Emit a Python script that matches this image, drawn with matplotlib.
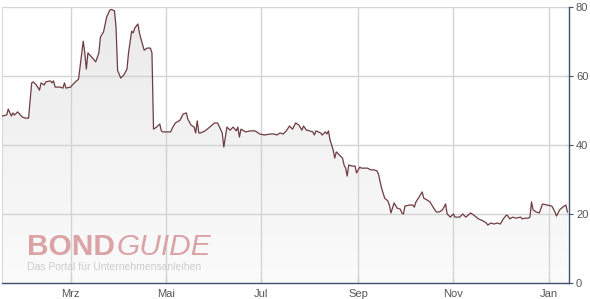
import numpy as np
import pandas as pd
import matplotlib
matplotlib.use('Agg')
import matplotlib.pyplot as plt
import matplotlib.dates as mdates
from matplotlib.colors import LinearSegmentedColormap
from matplotlib.patches import Polygon

# ── data ─────────────────────────────────────────────────────────────────────
START = pd.Timestamp('2013-01-16')
day = [0, 3, 4, 6, 7, 8, 10, 13, 15, 17, 19, 20, 22, 24, 25, 27, 28, 31, 32, 33,
       34, 37, 39, 40, 41, 44, 45, 47, 49, 52, 53, 54, 55, 58, 60, 62, 63, 65, 67, 69,
       70, 72, 73, 74, 76, 78, 80, 81, 83, 84, 85, 87, 88, 89, 91, 93, 95, 96, 97, 99,
       101, 102, 103, 105, 108, 109, 111, 114, 116, 118, 119, 121, 123, 124, 125, 126, 127, 130, 133, 136,
       138, 141, 142, 144, 146, 148, 150, 151, 152, 153, 156, 159, 162, 165, 168, 172, 174, 176, 178, 180,
       182, 184, 186, 188, 190, 192, 193, 195, 197, 199, 200, 201, 204, 205, 207, 208, 209, 210, 212, 213,
       214, 216, 218, 219, 220, 221, 222, 224, 226, 227, 229, 230, 232, 234, 236, 238, 240, 241, 243, 245,
       247, 248, 249, 251, 253, 255, 256, 257, 258, 261, 263, 264, 265, 267, 269, 270, 272, 274, 276, 278,
       280, 282, 284, 285, 287, 289, 290, 293, 295, 297, 300, 302, 305, 308, 310, 311, 313, 315, 317, 319,
       321, 323, 324, 325, 327, 329, 332, 333, 335, 337, 338, 339, 340, 342, 344, 346, 349, 352, 354, 355,
       357, 359, 361, 362]
price = [48.4, 48.7, 50.4, 48.4, 49.3, 48.7, 49.6, 48.1, 47.8, 47.8, 58.0, 58.3, 57.4, 55.9, 58.0, 57.4, 58.3, 58.6, 58.0, 58.6,
         56.8, 56.8, 56.5, 58.0, 56.5, 56.8, 57.4, 58.3, 59.1, 70.1, 66.7, 62.0, 66.7, 65.2, 64.1, 66.7, 71.3, 72.8, 77.1, 79.1,
         79.3, 78.9, 74.2, 61.7, 59.4, 60.3, 62.0, 66.7, 73.0, 72.5, 73.9, 75.1, 72.5, 70.7, 67.5, 68.1, 68.1, 66.7, 44.6, 45.2,
         46.1, 44.1, 43.8, 43.8, 43.8, 44.9, 46.4, 47.2, 49.0, 49.3, 47.5, 45.8, 45.2, 43.5, 47.0, 43.5, 43.5, 44.1, 45.2, 46.4,
         46.4, 43.5, 39.4, 45.2, 44.3, 45.2, 44.1, 45.2, 42.3, 44.6, 43.8, 44.1, 44.1, 43.2, 42.9, 43.2, 43.2, 42.9, 43.5, 43.2,
         44.1, 45.5, 44.6, 46.4, 45.8, 44.3, 45.5, 44.3, 44.1, 43.8, 42.9, 44.1, 43.5, 42.9, 43.8, 43.2, 44.1, 41.5, 38.6, 36.2,
         38.0, 37.1, 36.2, 34.2, 33.3, 31.0, 34.2, 33.9, 33.9, 31.9, 33.6, 33.3, 33.3, 33.3, 32.8, 32.8, 32.5, 31.6, 27.5, 24.6,
         23.8, 22.6, 20.3, 23.2, 21.7, 21.4, 20.3, 20.0, 22.3, 22.6, 22.6, 22.0, 23.5, 24.9, 26.4, 24.6, 24.1, 23.5, 22.0, 20.6,
         20.6, 21.2, 22.9, 20.0, 19.1, 20.0, 19.1, 19.1, 20.0, 19.1, 20.3, 19.7, 18.6, 18.0, 17.4, 16.8, 17.4, 17.1, 17.4, 17.1,
         18.6, 19.7, 19.4, 18.6, 19.1, 18.8, 19.1, 18.6, 18.8, 18.8, 19.1, 23.5, 21.2, 20.6, 20.3, 22.9, 22.6, 22.3, 20.6, 19.4,
         21.2, 22.0, 22.6, 20.6]
month_ticks = ['2013-03-01', '2013-05-01', '2013-07-01', '2013-09-01', '2013-11-01', '2014-01-01']
month_labels = ['Mrz', 'Mai', 'Jul', 'Sep', 'Nov', 'Jan']
y_ticks = [0, 20, 40, 60, 80]

plt.rcParams['font.family'] = ['Liberation Sans', 'DejaVu Sans']

dates = START + pd.to_timedelta(day, unit='D')
xn = mdates.date2num(dates.to_pydatetime())
x_lo = mdates.date2num(START)
x_hi = mdates.date2num(START + pd.Timedelta(days=363))

fig = plt.figure(figsize=(5.9, 2.99), dpi=100)
ax = fig.add_axes([0.0034, 0.0535, 0.961, 0.923])
ax.set_xlim(x_lo, x_hi)
ax.set_ylim(0, 80)

# gradient fill under the line
grad = LinearSegmentedColormap.from_list('g', ['#fbfbfb', '#eaeaea'])
im = ax.imshow(np.linspace(0, 1, 256).reshape(-1, 1), cmap=grad, origin='lower',
               extent=[x_lo, x_hi, 0, 80], aspect='auto', zorder=1)
verts = [(xn[0], 0)] + list(zip(xn, price)) + [(xn[-1], 0)]
poly = Polygon(verts, closed=True, facecolor='none', edgecolor='none')
ax.add_patch(poly)
im.set_clip_path(poly)

# grid
tick_nums = mdates.date2num(pd.to_datetime(month_ticks).to_pydatetime())
for t in tick_nums:
    ax.axvline(t, color='#d3d3d3', lw=1, zorder=2)
for v in y_ticks[1:]:
    ax.axhline(v, color='#d3d3d3', lw=1, zorder=2)
ax.axvline(x_lo, color='#d8d8d8', lw=1.5, zorder=2)

ax.plot(xn, price, color='#6e3c40', lw=0.9, zorder=3)

# axes styling
for s in ['top', 'left']:
    ax.spines[s].set_visible(False)
ax.spines['bottom'].set_color('#41506e')
ax.spines['right'].set_color('#41506e')
ax.spines['bottom'].set_linewidth(1)
ax.spines['right'].set_linewidth(1)
ax.set_xticks(tick_nums)
ax.set_xticklabels(month_labels)
ax.set_yticks(y_ticks)
ax.yaxis.tick_right()
ax.tick_params(axis='x', direction='in', length=4, color='#41506e', labelsize=8,
               labelcolor='#555555', pad=4)
ax.tick_params(axis='y', direction='inout', length=6, color='#41506e', labelsize=8,
               labelcolor='#555555', pad=2)

# watermark
t1 = fig.text(0.0458, 0.147, 'BOND', fontsize=21.5, fontweight='bold', color='#dba3a6', zorder=4)
ax.annotate('GUIDE', xy=(1, 0), xycoords=t1, xytext=(1, 0), textcoords='offset points',
            fontsize=21.5, fontstyle='italic', color='#dba3a6', va='bottom', ha='left', zorder=4)
fig.text(0.0458, 0.097, 'Das Portal für Unternehmensanleihen', fontsize=7.5, color='#cccccc', zorder=4)

fig.savefig('out.png', dpi=100)
